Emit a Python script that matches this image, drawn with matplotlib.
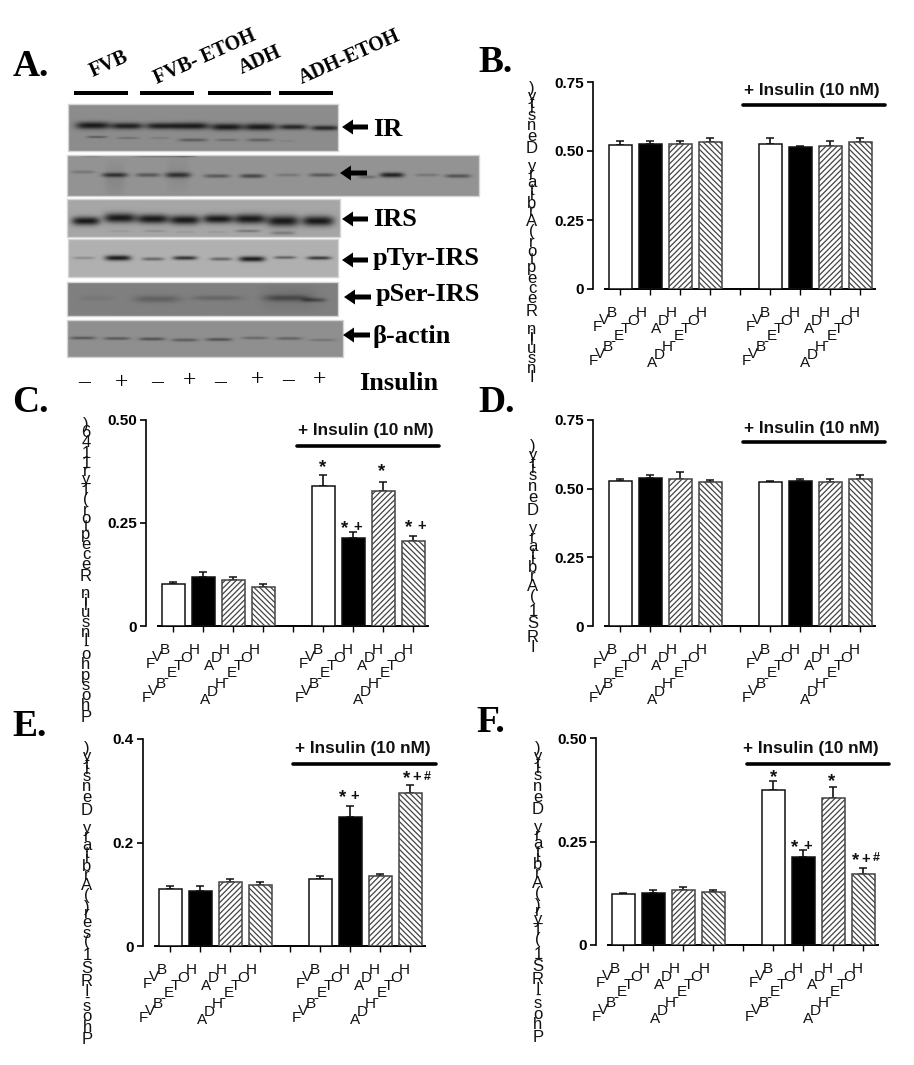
import numpy as np
import matplotlib
matplotlib.use("Agg")
import matplotlib.pyplot as plt
from matplotlib.font_manager import FontProperties, findfont, get_font
from matplotlib.ft2font import LoadFlags
from matplotlib.patches import FancyArrow, Rectangle

W, H = 914, 1065
SANS, SERIF = "Liberation Sans", "Liberation Serif"
plt.rcParams["hatch.linewidth"] = 0.9

# ---------- chart values ----------
groups = ["FVB", "FVB-ETOH", "ADH", "ADH-ETOH"]
b_mean = [0.521, 0.525, 0.525, 0.531, 0.525, 0.513, 0.519, 0.532]
b_top = [0.535, 0.536, 0.535, 0.546, 0.548, 0.518, 0.537, 0.547]
c_mean = [0.102, 0.118, 0.111, 0.095, 0.341, 0.213, 0.328, 0.206]
c_top = [0.108, 0.131, 0.119, 0.103, 0.367, 0.227, 0.350, 0.219]
d_mean = [0.527, 0.540, 0.537, 0.523, 0.523, 0.528, 0.526, 0.537]
d_top = [0.534, 0.548, 0.559, 0.531, 0.528, 0.534, 0.534, 0.550]
e_mean = [0.110, 0.107, 0.124, 0.117, 0.130, 0.250, 0.136, 0.295]
e_top = [0.116, 0.115, 0.129, 0.124, 0.136, 0.270, 0.140, 0.312]
f_mean = [0.123, 0.126, 0.134, 0.128, 0.374, 0.213, 0.355, 0.171]
f_top = [0.126, 0.134, 0.141, 0.132, 0.396, 0.229, 0.382, 0.186]

b_ticks = ["0", "0.25", "0.50", "0.75"]
c_ticks = ["0", "0.25", "0.50"]
d_ticks = ["0", "0.25", "0.50", "0.75"]
e_ticks = ["0", "0.2", "0.4"]
f_ticks = ["0", "0.25", "0.50"]

b_ylabel = "Insulin Receptor (Arbitary Density)"
c_ylabel = "Phospho-Insulin Receptor (Tyr1146)"
d_ylabel = "IRS1 (Arbitary Density)"
e_ylabel = "Phos-IRS1 (ser) (Arbitary Density)"
f_ylabel = "Phos-IRS1 (Tyr) (Arbitary Density)"

# western blot lanes: (lane centre, half width, band centre, half height, darkness)
blot_ir = [(93, 17, 125.5, 3.6, 1), (127, 16, 126, 3.2, .95), (162, 16, 126, 3.2, .95), (192, 17, 126, 3.4, 1),
           (227, 16, 127, 3.4, 1), (260, 16, 127, 3.4, 1), (293, 14, 127, 2.6, .9), (325, 14, 128, 2.4, .9),
           (97, 10, 137, 1, .5), (128, 11, 138, 1, .3), (160, 10, 138, 1, .15), (193, 14, 140, 1.5, .45),
           (227, 11, 140, 1.2, .3), (260, 13, 140, 1.5, .4), (287, 8, 141, 1, .1)]
blot_ir2 = [(83, 12, 172, 1.6, .25), (115, 13, 175, 2.2, .75), (148, 12, 175, 2, .5), (178, 13, 175, 2.6, .75),
            (217, 13, 176, 1.8, .5), (252, 12, 176, 2, .65), (288, 12, 175, 1.5, .25), (322, 13, 175, 1.8, .5),
            (367, 9, 177, 1.5, .35), (392, 12, 175, 2.4, .95), (427, 12, 175, 1.5, .25), (458, 13, 176, 1.8, .55),
            (92, 10, 155, 1.5, .5), (162, 28, 155, 1.5, .9), (187, 10, 155, 1.5, .7),
            (115, 10, 180, 16, .1), (178, 11, 175, 16, .08)]
blot_irs = [(86, 14, 221, 4.2, 1), (120, 16, 218, 4.8, 1), (153, 16, 219, 4.6, 1), (185, 15, 220, 4.6, 1),
            (218, 15, 219, 4.4, 1), (250, 16, 219, 4.8, 1), (283, 16, 221, 5.4, 1), (318, 16, 221, 5, 1),
            (120, 10, 231, 1, .1), (155, 11, 231, 1, .18), (185, 9, 232, 1, .1), (217, 9, 232, 1, .1),
            (248, 12, 231, 1.2, .35), (283, 12, 233, 1.8, .3)]
blot_ptyr = [(84, 11, 258, 1.3, .25), (118, 13, 258, 2.6, 1), (153, 11, 259, 1.6, .5), (185, 12, 258, 1.9, .85),
             (221, 11, 259, 1.6, .5), (252, 13, 259, 2.6, 1), (285, 11, 257.5, 1.4, .55), (319, 12, 258, 1.7, .8)]
blot_pser = [(97, 17, 298, 2.5, .08), (157, 23, 299, 3.5, .3), (217, 25, 298, 2.5, .25),
             (287, 23, 298, 3, .45), (314, 12, 300, 2, .5), (290, 28, 297, 12, .12)]
blot_actin = [(83, 13, 338, 1.4, .5), (117, 13, 338.5, 1.4, .5), (152, 13, 339, 1.5, .55), (185, 13, 340, 1.5, .45),
              (219, 13, 339.5, 1.5, .55), (255, 13, 338, 1.3, .35), (289, 13, 338.5, 1.4, .4), (323, 13, 340, 1.2, .25)]

# ---------- helpers ----------
fig = plt.figure(figsize=(W / 100, H / 100), dpi=100, facecolor="white")
ov = fig.add_axes([0, 0, 1, 1], zorder=5)
ov.patch.set_visible(False)
ov.axis("off")

_font = get_font(findfont(FontProperties(family=SANS)))
_font.set_size(100, 72)


def em(ch):
    return _font.load_char(ord(ch), flags=LoadFlags.NO_HINTING).linearHoriAdvance / 65536 / 100


def stacked(x, top, bottom, label, size=12):
    """Vertical label: upright glyphs stacked bottom to top."""
    w = [em(c) for c in label]
    pos = np.concatenate([[0], np.cumsum([(w[i] + w[i + 1]) / 2 for i in range(len(w) - 1)])])
    ys = bottom - (bottom - top) * pos / pos[-1]
    for c, y in zip(label, ys):
        if c != " ":
            ov.text(x, y, c, family=SANS, fontsize=size, ha="center", va="center", color="#111111")


def stairs(x_end, y_end, label, size=11):
    """Tick label: upright glyphs climbing at 45 degrees, ending at its last glyph."""
    w = [em(c) * size * 100 / 72 for c in label]
    x, y = x_end, y_end
    for i in range(len(label) - 1, -1, -1):
        ov.text(x, y, label[i], family=SANS, fontsize=size, ha="center", va="center", color="#111111")
        if i:
            step = (w[i] + w[i - 1]) / 2 * 0.72
            x -= step
            y += step


def panel(x_axis, top_px, zero_px, x0, ymax, ticks, mean, upper, ylabel, lab_x, lab_top, lab_bot,
          ins_x, ins_y, bar_x0, bar_x1, bar_y):
    right = x0 + 255
    ax = fig.add_axes([x_axis / W, 1 - zero_px / H, (right - x_axis) / W, (zero_px - top_px) / H])
    ax.patch.set_visible(False)
    ax.set_xlim((x_axis - x0) / 30, (right - x0) / 30)
    ax.set_ylim(0, ymax)
    idx = [0, 1, 2, 3, 5, 6, 7, 8]
    styles = [dict(facecolor="white"), dict(facecolor="black"),
              dict(facecolor="white", hatch="//////"), dict(facecolor="white", hatch="\\\\\\\\\\\\")] * 2
    for i, m, st in zip(idx, mean, styles):
        edge = "#111111" if "hatch" not in st else "#444444"
        ax.bar(i, m, width=23 / 30, edgecolor=edge, linewidth=1.1, zorder=3, **st)
    err = np.array(upper) - np.array(mean)
    ax.errorbar(idx, mean, yerr=[np.zeros(8), err], fmt="none", ecolor="#111111", elinewidth=1.2,
                capsize=2.7, capthick=1.1, zorder=2)
    for s in ("top", "right"):
        ax.spines[s].set_visible(False)
    ax.spines["left"].set_linewidth(1.2)
    ax.spines["bottom"].set_linewidth(1.4)
    ax.spines["bottom"].set_bounds(-0.5, (right - x0) / 30)
    ax.set_xticks(range(9))
    ax.set_xticklabels([])
    ax.tick_params(axis="x", length=4.5, width=1.0)
    ax.set_yticks([float(t) for t in ticks])
    ax.set_yticklabels(ticks, family=SANS, fontweight="bold", fontsize=11)
    ax.tick_params(axis="y", length=4, width=1.2, pad=2.5)
    for i, lab in zip(idx, groups * 2):
        extra = 3 if i > 4 else 0
        stairs(x0 + 30 * i - 8.5 + extra, zero_px + 24, lab)
    stacked(lab_x, lab_top, lab_bot, ylabel)
    ov.text(ins_x, ins_y, "+ Insulin (10 nM)", family=SANS, fontweight="bold", fontsize=12.4,
            ha="center", va="center", color="#111111")
    ov.plot([bar_x0, bar_x1], [bar_y, bar_y], color="black", lw=2.6, solid_capstyle="round")


panel(593, 82, 289, 620, 0.75, b_ticks, b_mean, b_top, b_ylabel, 532, 88, 377, 812, 90, 743, 885, 105)
panel(146, 420, 626, 173, 0.50, c_ticks, c_mean, c_top, c_ylabel, 86, 424, 717, 366, 431, 297, 439, 446)
panel(593, 420, 626, 620, 0.75, d_ticks, d_mean, d_top, d_ylabel, 533, 447, 648, 812, 428, 743, 885, 442)
panel(143, 739, 946, 170, 0.4, e_ticks, e_mean, e_top, e_ylabel, 87, 748, 1040, 363, 749, 293, 436, 764)
panel(596, 738, 945, 623, 0.50, f_ticks, f_mean, f_top, f_ylabel, 538, 748, 1037, 811, 749, 747, 889, 764)

# significance marks: the anchor is offset so that each glyph centres on its spot
for x, y, s in [(323, 465, "*"), (345, 526, "*"), (358, 526, "+"), (382, 469, "*"), (409, 525, "*"), (422, 525, "+"),
                (343, 795, "*"), (355, 795, "+"), (407, 776, "*"), (417, 776, "+"), (427, 776, "#"),
                (774, 775, "*"), (795, 845, "*"), (808, 845, "+"), (832, 779, "*"),
                (856, 858, "*"), (866, 858, "+"), (876, 857, "#")]:
    size, off = {"*": (13.5, 3), "+": (10.5, 1), "#": (9, 1)}[s]
    ov.text(x, y + off, s, family=SANS, fontweight="bold", fontsize=size, ha="center", va="center", color="#111111")

# ---------- panel A: blots ----------
blots = [((68, 338, 104, 151), 0.55, blot_ir), ((67, 479, 155, 196), 0.58, blot_ir2),
         ((67, 340, 199, 237), 0.65, blot_irs), ((68, 338, 239, 277), 0.69, blot_ptyr),
         ((67, 338, 282, 316), 0.50, blot_pser), ((67, 343, 320, 357), 0.56, blot_actin)]
for (x0, x1, y0, y1), bg, bands in blots:
    xx, yy = np.meshgrid(np.arange(x0, x1, 0.5) + 0.25, np.arange(y0, y1, 0.5) + 0.25)
    dark = np.zeros_like(xx)
    for cx, hw, cy, hh, d in bands:
        dark += d * np.exp(-((xx - cx) / hw) ** 4) * np.exp(-((yy - cy) / hh) ** 2)
    img = bg - (bg - 0.1) * np.clip(dark, 0, 1)
    ov.imshow(img, extent=(x0, x1, y1, y0), cmap="gray", vmin=0, vmax=1, aspect="auto",
              interpolation="bilinear", zorder=1)
    ov.add_patch(Rectangle((x0, y0), x1 - x0, y1 - y0, fill=False, ec="#d4d4d4", lw=1, zorder=2))

for x0, x1 in [(74, 128), (140, 194), (208, 271), (279, 333)]:
    ov.add_patch(Rectangle((x0, 91), x1 - x0, 4, color="black", lw=0))

for tail, tip, y in [(368, 342, 127), (367, 340, 173), (368, 342, 219), (368, 342, 260), (371, 344, 297), (370, 343, 335)]:
    ov.add_patch(FancyArrow(tail, y, tip - tail, 0, width=5, head_width=15, head_length=11,
                            length_includes_head=True, color="black", lw=0, zorder=4))

for x, y, s in [(373, 129, "IR"), (373, 220, "IRS"), (373, 258, "pTyr-IRS"), (376, 295, "pSer-IRS"),
                (373, 336, "β-actin"), (359, 383, "Insulin")]:
    ov.text(x, y, s, family=SERIF, fontweight="bold", fontsize=19, ha="left", va="center", color="black")

for x, y, s in [(109, 64, "FVB"), (205, 57, "FVB- ETOH"), (260, 60, "ADH"), (350, 57, "ADH-ETOH")]:
    ov.text(x, y, s, family=SERIF, fontweight="bold", fontsize=14.5, rotation=24, rotation_mode="anchor",
            ha="center", va="center", color="black")

for x, y, s in zip([84, 122, 157, 189, 220, 257, 288, 320], [383, 383, 383, 381, 383, 380, 381, 380],
                   ["–", "+", "–", "+", "–", "+", "–", "+"]):
    ov.text(x, y, s, family=SERIF, fontsize=17, ha="center", va="center", color="black")

for x, y, s in [(13, 67, "A."), (478, 62, "B."), (12, 402, "C."), (478, 402, "D."), (12, 727, "E."), (476, 722, "F.")]:
    ov.text(x, y, s, family=SERIF, fontweight="bold", fontsize=27, ha="left", va="center", color="black")

ov.set_xlim(0, W)
ov.set_ylim(H, 0)
fig.savefig("out.png", dpi=100)
